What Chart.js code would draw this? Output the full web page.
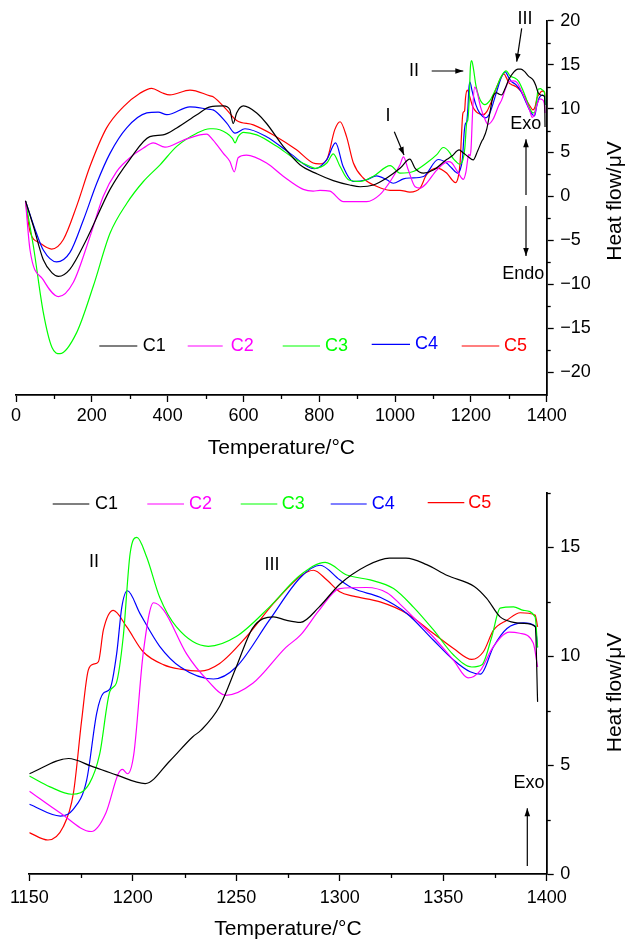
<!DOCTYPE html>
<html><head><meta charset="utf-8">
<script src="https://cdn.jsdelivr.net/npm/chart.js@4.4.1/dist/chart.umd.min.js"></script>
<style>
html,body{margin:0;padding:0;background:#fff;width:625px;height:939px;overflow:hidden}
canvas{position:absolute;left:0}
#c1{top:0}
#c2{top:470px}
</style></head><body>
<canvas id="c1" width="625" height="470"></canvas>
<canvas id="c2" width="625" height="469"></canvas>
<script>
// ---------- DATA ----------
const seriesNames = ['C1','C2','C3','C4','C5'];
const seriesColors = ['#000000','#ff00ff','#00ff00','#0000ff','#ff0000'];

// low-temperature part (full-range panel), [T °C, heat flow µV]
const c1Low = [[25,-0.5],[46,-3.4],[72,-7.2],[95,-8.7],[112,-9.1],[142,-8.3],[186,-4.9],[248,0.8],[300,4.2],[353,6.8],[388,7.0],[424,7.8],[477,9.3],[512,10.2],[547,10.3],[564,9.9],[573,8.3],[582,9.5],[600,10.3],[635,9.5],[661,8.3],[705,5.7],[749,3.6],[795,2.55],[837,1.8],[880,1.3],[908,1.1],[943,1.3],[978,2.1],[1013,3.2],[1039,4.25],[1053,3.2],[1075,2.66],[1101,3.0],[1136,4.2]];
const c2Low = [[25,-0.5],[37,-6.1],[72,-9.5],[112,-11.4],[151,-9.8],[195,-4.6],[230,0],[265,2.8],[309,4.7],[336,5.5],[362,6.1],[393,5.6],[441,6.4],[485,7.0],[503,7.1],[520,6.4],[547,4.9],[564,4.0],[576,2.8],[586,4.4],[608,4.7],[661,3.8],[705,2.3],[758,0.8],[784,0.6],[802,0.7],[828,0.6],[864,-0.6],[925,-0.6],[960,0.2],[987,1.7],[1013,3.6],[1022,4.5],[1035,3.0],[1053,1.1],[1066,0.95],[1083,1.5],[1110,3.0],[1140,3.95]];
const c3Low = [[25,-0.5],[46,-5.7],[72,-13.2],[95,-17.2],[116,-17.9],[160,-15.5],[204,-10.2],[248,-4.2],[292,-0.8],[336,1.7],[380,3.6],[424,5.7],[477,7.2],[512,7.7],[520,7.7],[556,7.2],[571,6.6],[578,6.1],[586,6.8],[600,7.3],[635,7.0],[688,5.7],[735,4.3],[776,3.4],[789,3.2],[820,3.8],[837,4.85],[855,3.4],[877,1.9],[908,1.7],[943,2.3],[987,3.5],[1013,2.66],[1048,2.84],[1083,3.8],[1110,4.75],[1127,5.57],[1145,4.93]];
const c4Low = [[25,-0.5],[54,-4.2],[72,-6.1],[107,-7.45],[142,-6.4],[178,-2.65],[213,1.5],[248,4.9],[292,7.8],[345,9.5],[375,9.6],[398,9.3],[459,10.2],[512,9.9],[520,9.85],[556,8.35],[578,7.2],[604,7.7],[661,6.8],[723,4.9],[787,3.15],[820,4.2],[843,6.1],[863,3.4],[890,1.7],[925,1.9],[951,2.35],[978,1.9],[995,1.5],[1022,2.0],[1040,2.1],[1075,2.27],[1114,4.2],[1136,3.8]];
const c5Low = [[25,-0.5],[37,-4.0],[63,-5.3],[94,-6.0],[125,-4.9],[160,-1.1],[195,3.4],[239,7.8],[283,10.2],[327,11.75],[358,12.3],[385,11.8],[406,11.55],[459,12.1],[512,11.45],[520,11.35],[556,9.85],[582,8.65],[626,8.15],[679,7.0],[740,5.3],[784,3.8],[800,3.7],[820,4.2],[841,7.6],[855,8.5],[872,6.8],[890,3.8],[916,2.1],[951,1.15],[987,0.7],[1013,0.7],[1039,0.5],[1066,0.95],[1083,2.47],[1110,3.23],[1136,2.66]];

// high-temperature part (1150–1400 °C), shared by both panels
const c1High = [[1150,4.6],[1169,5.3],[1180,4.95],[1192,4.55],[1206,4.15],[1218,5.2],[1229,6.3],[1233,6.6],[1242,7.7],[1250,9.5],[1258,11.3],[1268,11.8],[1274,11.65],[1281,11.55],[1290,12.25],[1300,13.3],[1313,14.15],[1324,14.5],[1332,14.5],[1342,14.2],[1352,13.7],[1365,13.2],[1371,12.65],[1377.5,11.8],[1384,11.55],[1389,11.5],[1394.5,11.35],[1395.6,7.9]];
const c2High = [[1150,3.8],[1165,2.8],[1180,1.95],[1187,2.8],[1193,4.6],[1195,4.8],[1197.5,4.6],[1200.5,5.5],[1205,10.1],[1210,12.45],[1215,12.1],[1226,10.1],[1236,8.9],[1245,8.2],[1258,8.75],[1274,10.4],[1281,10.96],[1290,12.1],[1300,13.1],[1313,13.15],[1323,12.9],[1329,12.4],[1337,11.65],[1345,10.9],[1355,9.8],[1362,9.0],[1368,9.35],[1374,10.4],[1382,11.1],[1387,11.05],[1393.5,10.6],[1395.6,9.5]];
const c3High = [[1150,4.5],[1160,4.0],[1170.5,3.66],[1179,4.15],[1184,5.5],[1189,8.4],[1192,8.75],[1195.4,10.9],[1198.7,14.7],[1202,15.45],[1206.7,14.55],[1213,12.7],[1221,11.35],[1236.5,10.45],[1250,10.9],[1266,12.25],[1281,13.72],[1293,14.3],[1303.4,13.72],[1314.7,13.5],[1326,13.1],[1335.6,12.25],[1345.3,11.2],[1355,10.05],[1363.8,9.5],[1368.7,9.6],[1373.5,10.9],[1377.5,12.2],[1384,12.26],[1388.8,12.1],[1394.4,11.8],[1395.6,10.4]];
const c4High = [[1150,3.2],[1165,2.66],[1171,2.94],[1177.7,4.3],[1182.6,7.4],[1185.8,8.3],[1189,8.5],[1192.2,10.1],[1194.7,12.25],[1197.4,13.0],[1203.5,11.95],[1213,10.45],[1223,9.5],[1239,8.95],[1250,9.5],[1266,11.65],[1281,13.61],[1290.5,14.17],[1300,13.5],[1306.6,13.1],[1319.5,12.7],[1332.4,11.96],[1345.3,10.73],[1355,9.82],[1363,9.28],[1368,9.17],[1374.3,10.43],[1380.8,11.27],[1388.8,11.53],[1394.4,11.38],[1395.6,10.4]];
const c5High = [[1150,1.9],[1159,1.56],[1166.4,2.17],[1171.3,3.7],[1175.3,7.06],[1178.5,9.36],[1181,9.63],[1183.4,9.74],[1185.8,11.2],[1190.6,12.1],[1197,11.35],[1205,10.2],[1215,9.6],[1223,9.4],[1232.5,9.31],[1242,9.66],[1255,10.9],[1268,12.42],[1281,13.67],[1287.3,13.94],[1293.8,13.49],[1300,12.95],[1306.6,12.75],[1319.5,12.49],[1332.4,11.96],[1345.3,11.04],[1355,10.35],[1363.8,9.85],[1369.4,10.2],[1374.3,11.19],[1380.8,11.65],[1387.2,11.99],[1394.4,11.88],[1395.6,11.34]];

// tick labels
const topXTicks = [0,200,400,600,800,1000,1200,1400];
const topXMinor = [100,300,500,700,900,1100,1300];
const topYTicks = [-20,-15,-10,-5,0,5,10,15,20];
const topYMinor = [-17.5,-12.5,-7.5,-2.5,2.5,7.5,12.5,17.5];
const botXTicks = [1150,1200,1250,1300,1350,1400];
const botXMinor = [1175,1225,1275,1325,1375];
const botYTicks = [0,5,10,15];
const botYMinor = [2.5,7.5,12.5,17.5];

const xTitle = 'Temperature/°C';
const yTitle = 'Heat flow/μV';

// ---------- RENDER ----------
const FONT = '"Liberation Sans", Arial, Helvetica, sans-serif';
const lows = [c1Low,c2Low,c3Low,c4Low,c5Low];
const highs = [c1High,c2High,c3High,c4High,c5High];
const toXY = arr => arr.map(p => ({x:p[0], y:p[1]}));
const fmt = v => String(v).replace('-', '\u2212');

function makeDatasets(full){
  return seriesNames.map((n,i) => ({
    label:n,
    data: toXY(full ? lows[i].concat(highs[i]) : highs[i]),
    borderColor: seriesColors[i],
    borderWidth: 1.2,
    pointRadius: 0,
    fill:false,
    cubicInterpolationMode:'monotone'
  }));
}

function drawArrow(ctx, x1,y1,x2,y2){
  ctx.beginPath(); ctx.moveTo(x1,y1); ctx.lineTo(x2,y2); ctx.stroke();
  const a = Math.atan2(y2-y1, x2-x1), L = 8, W = 2.8;
  ctx.beginPath();
  ctx.moveTo(x2,y2);
  ctx.lineTo(x2 - L*Math.cos(a) + W*Math.sin(a), y2 - L*Math.sin(a) - W*Math.cos(a));
  ctx.lineTo(x2 - L*Math.cos(a) - W*Math.sin(a), y2 - L*Math.sin(a) + W*Math.cos(a));
  ctx.closePath(); ctx.fill();
}

function decoPlugin(cfg){
  return {
    id:'deco',
    afterDraw(chart){
      const ctx = chart.ctx, xs = chart.scales.x, ys = chart.scales.y, ca = chart.chartArea;
      ctx.save();
      ctx.strokeStyle = '#000'; ctx.lineWidth = 1.3;
      cfg.xMinor.forEach(v => { const p = Math.round(xs.getPixelForValue(v))+0.5; ctx.beginPath(); ctx.moveTo(p, ca.bottom); ctx.lineTo(p, ca.bottom+4); ctx.stroke(); });
      cfg.yMinor.forEach(v => { const p = Math.round(ys.getPixelForValue(v))+0.5; ctx.beginPath(); ctx.moveTo(ca.right, p); ctx.lineTo(ca.right+4, p); ctx.stroke(); });
      // titles
      ctx.fillStyle = '#000';
      ctx.font = '21px ' + FONT;
      ctx.textAlign = 'center'; ctx.textBaseline = 'middle';
      ctx.fillText(xTitle, (ca.left+ca.right)/2, cfg.xTitleY);
      ctx.save(); ctx.translate(cfg.yTitleX, cfg.yTitleY); ctx.rotate(-Math.PI/2);
      ctx.fillText(yTitle, 0, 0); ctx.restore();
      // legend
      ctx.font = '18px ' + FONT; ctx.textAlign = 'left';
      cfg.legend.forEach((it,i) => {
        ctx.strokeStyle = seriesColors[i]; ctx.lineWidth = 1.2;
        ctx.beginPath(); ctx.moveTo(it[0], it[2]); ctx.lineTo(it[1], it[2]); ctx.stroke();
        ctx.fillStyle = seriesColors[i];
        ctx.fillText(seriesNames[i], it[3], it[4]);
      });
      // annotations
      ctx.fillStyle = '#000'; ctx.strokeStyle = '#000'; ctx.lineWidth = 1.2;
      ctx.textAlign = 'center';
      cfg.texts.forEach(t => ctx.fillText(t[0], t[1], t[2]));
      cfg.arrows.forEach(a => drawArrow(ctx, a[0],a[1],a[2],a[3]));
      ctx.restore();
    }
  };
}

function makeOptions(o){
  return {
    responsive:false, animation:false, devicePixelRatio:1,
    layout:{ padding:{left:o.left, top:o.top, right:0, bottom:0}, autoPadding:false },
    plugins:{ legend:{display:false}, tooltip:{enabled:false} },
    scales:{
      x:{ type:'linear', position:'bottom', min:o.xmin, max:o.xmax,
        afterBuildTicks: s => { s.ticks = o.xTicks.map(v => ({value:v})); },
        afterFit: s => { s.height = o.xh; },
        ticks:{ color:'#000', font:{family:FONT, size:18}, padding:o.xpad, maxRotation:0, autoSkip:false, callback: v => fmt(v) },
        grid:{ drawOnChartArea:false, drawTicks:true, tickLength:7, tickColor:'#000', tickWidth:1.3 },
        border:{ display:true, color:'#000', width:1.8 } },
      y:{ type:'linear', position:'right', min:o.ymin, max:o.ymax,
        afterBuildTicks: s => { s.ticks = o.yTicks.map(v => ({value:v})); },
        afterFit: s => { s.width = 78.3; },
        ticks:{ color:'#000', font:{family:FONT, size:18}, padding:6.5, autoSkip:false, callback: v => fmt(v) },
        grid:{ drawOnChartArea:false, drawTicks:true, tickLength:7, tickColor:'#000', tickWidth:1.3 },
        border:{ display:true, color:'#000', width:1.8 } }
    }
  };
}

new Chart(document.getElementById('c1'), {
  type:'line',
  data:{ datasets: makeDatasets(true) },
  options: makeOptions({left:16, top:20.7, xmin:0, xmax:1400, ymin:-22.6, ymax:20, xTicks:topXTicks, yTicks:topYTicks, xh:75, xpad:3.5}),
  plugins:[decoPlugin({
    xMinor:topXMinor, yMinor:topYMinor, xTitleY:448, yTitleX:615, yTitleY:201,
    legend:[[99.3,137.3,346,142.7,346.3],[187.7,222.7,346,230.7,346.5],[282.7,320,346,325,345.7],[371.7,410,344.3,415,343.8],[461.7,499.3,346,504,346]],
    texts:[['I',388,116.5],['II',414,71],['III',525,18.8],['Exo',525.7,123.7],['Endo',523.3,274]],
    arrows:[[394.3,131.7,404,155],[431.7,71,463.3,71],[521.7,28.3,516.7,61.7],[526,195,526,139.3],[526,206,526,256]]
  })]
});

new Chart(document.getElementById('c2'), {
  type:'line',
  data:{ datasets: makeDatasets(false) },
  options: makeOptions({left:29.3, top:22.7, xmin:1150, xmax:1400, ymin:0, ymax:17.5, xTicks:botXTicks, yTicks:botYTicks, xh:65, xpad:6.2}),
  plugins:[decoPlugin({
    xMinor:botXMinor, yMinor:botYMinor, xTitleY:459, yTitleX:615, yTitleY:222.5,
    legend:[[52.7,89.3,34,95,33.7],[147.3,184,34,189,33.7],[240.7,277.3,34,281.7,34.3],[330.7,366.7,34,371.7,34],[427.7,464.3,32.7,468.3,33]],
    texts:[['II',94,91.7],['III',272,95],['Exo',529,313]],
    arrows:[[527.3,396,527.3,338.3]]
  })]
});
</script>
</body></html>
